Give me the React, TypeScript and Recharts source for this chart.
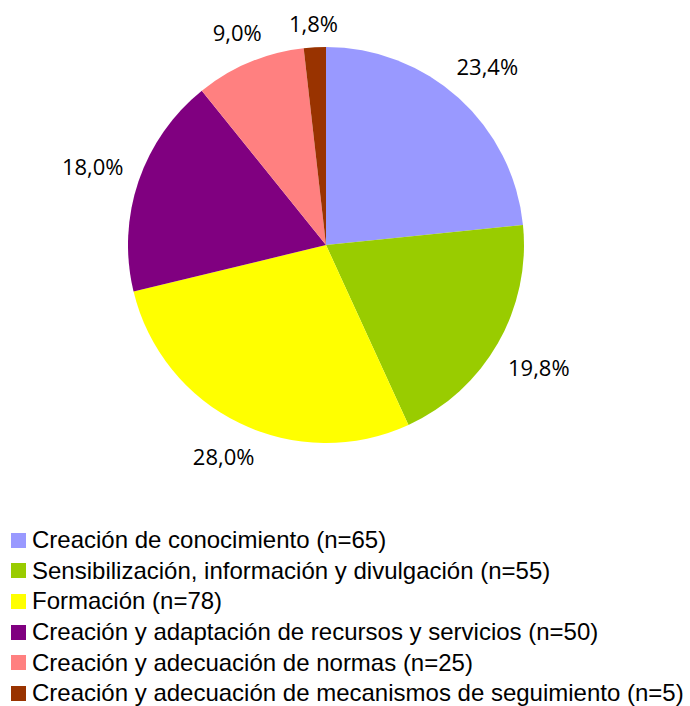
import React from "react";
import { PieChart, Pie, Cell, Legend } from "recharts";

const categories = [
  "Creación de conocimiento (n=65)",
  "Sensibilización, información y divulgación (n=55)",
  "Formación (n=78)",
  "Creación y adaptación de recursos y servicios (n=50)",
  "Creación y adecuación de normas (n=25)",
  "Creación y adecuación de mecanismos de seguimiento (n=5)",
];
const counts = [65, 55, 78, 50, 25, 5];
const percentLabels = ["23,4%", "19,8%", "28,0%", "18,0%", "9,0%", "1,8%"];
const colors = ["#9999FF", "#99CC00", "#FFFF00", "#800080", "#FF8080", "#993300"];

const data = categories.map((name, i) => ({ name, value: counts[i], label: percentLabels[i] }));

const RAD = Math.PI / 180;

const renderLabel = (props: any) => {
  const { cx, cy, midAngle, outerRadius, index } = props;
  const text = percentLabels[index];
  const w = text.length * 13;
  const h = 16;
  const c = Math.cos(-midAngle * RAD);
  const s = Math.sin(-midAngle * RAD);
  const r = outerRadius + 15 + Math.abs(c) * w / 2 + Math.abs(s) * h / 2;
  const x = cx + r * c;
  const y = cy + r * s;
  return (
    <text
      x={x}
      y={y}
      textAnchor="middle"
      dominantBaseline="central"
      fill="#000"
      style={{ fontFamily: "'Open Sans', sans-serif", fontSize: 22 }}
    >
      {text}
    </text>
  );
};

const renderLegend = () => (
  <div style={{ fontFamily: "'Liberation Sans', Arial, sans-serif", fontSize: 24, color: "#000" }}>
    {data.map((d, i) => (
      <div key={d.name} style={{ height: 30.6, display: "flex", alignItems: "center", whiteSpace: "nowrap" }}>
        <span
          style={{
            display: "inline-block",
            width: 15,
            height: 15,
            background: colors[i],
            marginRight: 6,
            flex: "none",
          }}
        />
        <span style={{ lineHeight: "30px" }}>{d.name}</span>
      </div>
    ))}
  </div>
);

export default function App() {
  return (
    <div style={{ position: "absolute", left: 0, top: 0, width: 690, height: 706, background: "#fff" }}>
      <PieChart width={690} height={706} margin={{ top: 0, right: 0, bottom: 0, left: 0 }}>
        <Pie
          data={data}
          dataKey="value"
          nameKey="name"
          cx={326}
          cy={245}
          outerRadius={198}
          startAngle={90}
          endAngle={-270}
          stroke="none"
          label={renderLabel}
          labelLine={false}
          isAnimationActive={false}
        >
          {data.map((d, i) => (
            <Cell key={d.name} fill={colors[i]} />
          ))}
        </Pie>
        <Legend
          content={renderLegend}
          wrapperStyle={{ position: "absolute", left: 11, top: 525, width: 690, height: 190 }}
        />
      </PieChart>
    </div>
  );
}
